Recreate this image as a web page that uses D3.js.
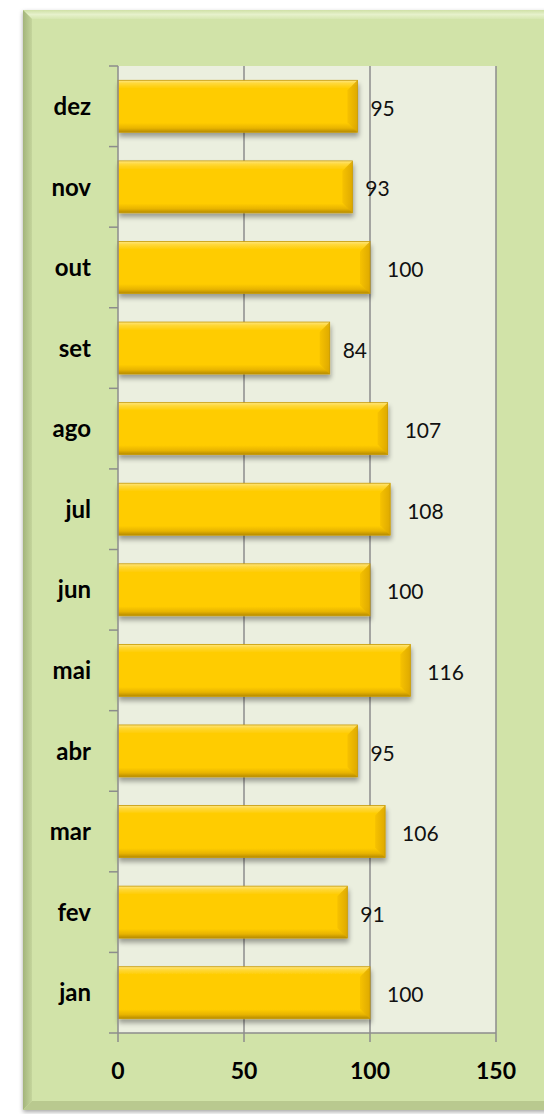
<!DOCTYPE html>
<html>
<head>
<meta charset="utf-8">
<script src="https://cdn.jsdelivr.net/npm/d3@7"></script>
<style>
  html, body { margin: 0; padding: 0; background: #fff; }
  svg { display: block; }
</style>
</head>
<body>
<div id="chart"></div>
<script>
// month labels and values, bottom to top as in the picture
const months = ['jan', 'fev', 'mar', 'abr', 'mai', 'jun', 'jul', 'ago', 'set', 'out', 'nov', 'dez'];
const values = [100, 91, 106, 95, 116, 100, 108, 107, 84, 100, 93, 95];
const xTicks = [0, 50, 100, 150];

const W = 544, H = 1114;
const plot = { left: 118, right: 496, top: 66, bottom: 1033 };
const font = 'Lato, "Open Sans", sans-serif';

const svg = d3.select('#chart').append('svg')
  .attr('width', W).attr('height', H);

const defs = svg.append('defs');

// bar fill: vertical bevel look
const bar = defs.append('linearGradient').attr('id', 'barGrad')
  .attr('x1', 0).attr('y1', 0).attr('x2', 0).attr('y2', 1);
bar.append('stop').attr('offset', 0).attr('stop-color', '#ffe680');
bar.append('stop').attr('offset', 0.06).attr('stop-color', '#ffd83a');
bar.append('stop').attr('offset', 0.16).attr('stop-color', '#ffcc00');
bar.append('stop').attr('offset', 0.82).attr('stop-color', '#ffcc00');
bar.append('stop').attr('offset', 0.92).attr('stop-color', '#e8b400');
bar.append('stop').attr('offset', 1).attr('stop-color', '#b58a00');

const endGrad = defs.append('linearGradient').attr('id', 'endGrad')
  .attr('x1', 0).attr('y1', 0).attr('x2', 1).attr('y2', 0);
endGrad.append('stop').attr('offset', 0).attr('stop-color', '#f5c000');
endGrad.append('stop').attr('offset', 1).attr('stop-color', '#d9a400');

const shadow = defs.append('filter').attr('id', 'barShadow')
  .attr('x', '-5%').attr('y', '-20%').attr('width', '115%').attr('height', '160%');
shadow.append('feGaussianBlur').attr('in', 'SourceAlpha').attr('stdDeviation', 2.5);
shadow.append('feOffset').attr('dx', 1).attr('dy', 4).attr('result', 'b');
shadow.append('feComponentTransfer').append('feFuncA').attr('type', 'linear').attr('slope', 0.35);
const merge = shadow.append('feMerge');
merge.append('feMergeNode');
merge.append('feMergeNode').attr('in', 'SourceGraphic');

const panelShadow = defs.append('filter').attr('id', 'panelShadow')
  .attr('x', '-5%').attr('y', '-5%').attr('width', '110%').attr('height', '110%');
panelShadow.append('feDropShadow').attr('dx', 0).attr('dy', 2).attr('stdDeviation', 2)
  .attr('flood-color', '#000').attr('flood-opacity', 0.35);

const leftGrad = defs.append('linearGradient').attr('id', 'leftGrad')
  .attr('x1', 0).attr('y1', 0).attr('x2', 1).attr('y2', 0);
leftGrad.append('stop').attr('offset', 0).attr('stop-color', '#a3b47a');
leftGrad.append('stop').attr('offset', 1).attr('stop-color', '#c4d59c');

const topGrad = defs.append('linearGradient').attr('id', 'topGrad')
  .attr('x1', 0).attr('y1', 0).attr('x2', 0).attr('y2', 1);
topGrad.append('stop').attr('offset', 0).attr('stop-color', '#cfe0a6');
topGrad.append('stop').attr('offset', 0.5).attr('stop-color', '#e6f1cb');
topGrad.append('stop').attr('offset', 1).attr('stop-color', '#d6e6b0');

// outer panel with bevel
const px = 23, py = 10, pr = W + 10, pb = 1110, bev = 9;
svg.append('rect').attr('x', px).attr('y', py).attr('width', pr - px).attr('height', pb - py)
  .attr('fill', '#d1e3a8').attr('filter', 'url(#panelShadow)');
svg.append('polygon')
  .attr('points', `${px},${py} ${pr},${py} ${pr - bev},${py + bev} ${px + bev},${py + bev}`)
  .attr('fill', 'url(#topGrad)');
svg.append('polygon')
  .attr('points', `${px},${py} ${px + bev},${py + bev} ${px + bev},${pb - bev} ${px},${pb}`)
  .attr('fill', 'url(#leftGrad)');
svg.append('polygon')
  .attr('points', `${px},${pb} ${px + bev},${pb - bev} ${pr - bev},${pb - bev} ${pr},${pb}`)
  .attr('fill', '#b9c98f');

// scales
const x = d3.scaleLinear().domain([0, 150]).range([plot.left, plot.right]);
const y = d3.scaleBand().domain(months).range([plot.bottom, plot.top]).paddingInner(0.355).paddingOuter(0.1775);
const step = (plot.bottom - plot.top) / months.length;

// plot area
svg.append('rect')
  .attr('x', plot.left).attr('y', plot.top)
  .attr('width', plot.right - plot.left).attr('height', plot.bottom - plot.top)
  .attr('fill', '#ebefdf');

// vertical grid lines
svg.append('g').selectAll('line').data(xTicks.slice(1)).join('line')
  .attr('x1', d => x(d)).attr('x2', d => x(d))
  .attr('y1', plot.top).attr('y2', plot.bottom)
  .attr('stroke', '#8c8c8c').attr('stroke-width', 1.5);

// bars
const bars = svg.append('g').selectAll('g').data(months).join('g')
  .attr('filter', 'url(#barShadow)');
bars.append('rect')
  .attr('x', x(0)).attr('y', d => y(d))
  .attr('width', (d, i) => x(values[i]) - x(0))
  .attr('height', y.bandwidth())
  .attr('fill', 'url(#barGrad)');
// right bevel
bars.append('polygon')
  .attr('points', (d, i) => {
    const xe = x(values[i]), y0 = y(d), y1 = y(d) + y.bandwidth(), b = 10;
    return `${xe - b},${y0 + b} ${xe},${y0} ${xe},${y1} ${xe - b},${y1 - b}`;
  })
  .attr('fill', 'url(#endGrad)').attr('opacity', 0.85);
bars.append('rect')
  .attr('x', x(0)).attr('y', d => y(d))
  .attr('width', (d, i) => x(values[i]) - x(0))
  .attr('height', y.bandwidth())
  .attr('fill', 'none').attr('stroke', '#c89a00').attr('stroke-width', 0.8);

// value labels
svg.append('g').selectAll('text').data(months).join('text')
  .attr('x', (d, i) => x(values[i]) + (values[i] >= 100 ? 17 : 13))
  .attr('y', d => y(d) + y.bandwidth() / 2 + 2)
  .attr('dy', '0.36em')
  .attr('font-family', font).attr('font-size', 21).attr('fill', '#111')
  .text((d, i) => values[i]);

// y axis line and ticks between categories
const axisCol = '#8c8c8c';
svg.append('line')
  .attr('x1', plot.left).attr('x2', plot.left)
  .attr('y1', plot.top).attr('y2', plot.bottom)
  .attr('stroke', axisCol).attr('stroke-width', 1.5);
svg.append('g').selectAll('line').data(d3.range(months.length + 1)).join('line')
  .attr('x1', plot.left - 9).attr('x2', plot.left)
  .attr('y1', i => plot.top + i * step).attr('y2', i => plot.top + i * step)
  .attr('stroke', axisCol).attr('stroke-width', 1.5);

svg.append('g').selectAll('text').data(months).join('text')
  .attr('x', 91).attr('y', d => y(d) + y.bandwidth() / 2)
  .attr('dy', '0.36em').attr('text-anchor', 'end')
  .attr('font-family', font).attr('font-weight', 'bold').attr('font-size', 24).attr('fill', '#000')
  .text(d => d);

// x axis
svg.append('line')
  .attr('x1', plot.left).attr('x2', plot.right)
  .attr('y1', plot.bottom).attr('y2', plot.bottom)
  .attr('stroke', axisCol).attr('stroke-width', 1.5);
svg.append('g').selectAll('line').data(xTicks).join('line')
  .attr('x1', d => x(d)).attr('x2', d => x(d))
  .attr('y1', plot.bottom).attr('y2', plot.bottom + 9)
  .attr('stroke', axisCol).attr('stroke-width', 1.5);
svg.append('g').selectAll('text').data(xTicks).join('text')
  .attr('x', d => x(d)).attr('y', 1071).attr('dy', '0.36em')
  .attr('text-anchor', 'middle')
  .attr('font-family', font).attr('font-weight', 'bold').attr('font-size', 23).attr('fill', '#000')
  .text(d => d);
</script>
</body>
</html>
